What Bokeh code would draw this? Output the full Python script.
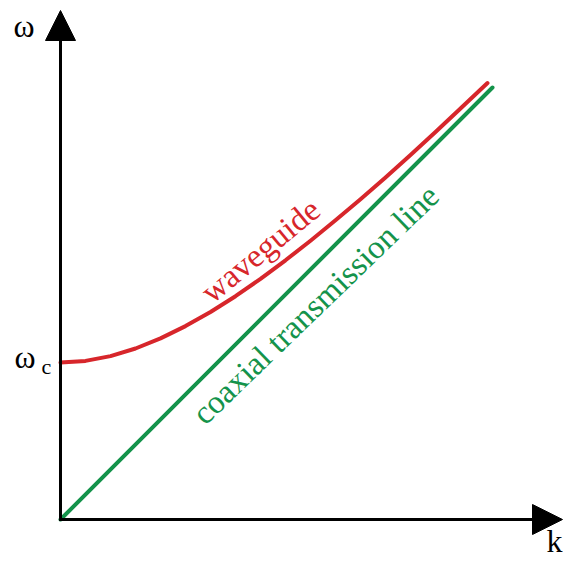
from bokeh.plotting import figure
from bokeh.models import Range1d, Arrow, NormalHead
from bokeh.core.properties import value
from bokeh.embed import file_html
from bokeh.resources import INLINE

# Dispersion curves (k, omega) in arbitrary units
omega_c = 1.57
k_waveguide = [0.00, 0.25, 0.50, 0.75, 1.00, 1.25, 1.50, 1.75, 2.00,
               2.25, 2.50, 2.75, 3.00, 3.25, 3.50, 3.75, 4.00, 4.27]
w_waveguide = [1.570, 1.586, 1.634, 1.710, 1.811, 1.934, 2.075, 2.233, 2.406,
               2.592, 2.788, 2.992, 3.203, 3.421, 3.645, 3.875, 4.110, 4.365]
k_coax = [0.00, 4.32]
w_coax = [0.00, 4.32]

RED = "#d7262b"
GREEN = "#14934b"
SERIF = value("Liberation Serif")

p = figure(width=563, height=563, output_backend="svg", toolbar_location=None,
           x_range=Range1d(-0.60, 5.03), y_range=Range1d(-0.44, 5.19),
           min_border=0)
p.axis.visible = False
p.grid.visible = False
p.outline_line_color = None
p.background_fill_color = "white"

# axes with arrow heads
p.add_layout(Arrow(end=NormalHead(size=30, fill_color="black", line_color="black", line_width=1),
                   x_start=0, y_start=-0.015, x_end=0, y_end=5.09,
                   line_color="black", line_width=3))
p.add_layout(Arrow(end=NormalHead(size=30, fill_color="black", line_color="black", line_width=1),
                   x_start=-0.015, y_start=0, x_end=5.02, y_end=0,
                   line_color="black", line_width=3))

# curves
p.line(k_coax, w_coax, line_color=GREEN, line_width=4, line_cap="round")
p.line(k_waveguide, w_waveguide, line_color=RED, line_width=4,
       line_join="round", line_cap="round")

# axis labels
p.text(x=[-0.47], y=[4.94], text=["ω"], text_font=SERIF, text_font_size="32px",
       text_color="black", text_align="left", text_baseline="alphabetic")
p.text(x=[4.86], y=[-0.21], text=["k"], text_font=SERIF, text_font_size="32px",
       text_color="black", text_align="left", text_baseline="alphabetic")
p.text(x=[-0.46], y=[omega_c + 0.06], text=["ω"], text_font=SERIF, text_font_size="32px",
       text_color="black", text_align="left", text_baseline="alphabetic")
p.text(x=[-0.19], y=[omega_c - 0.04], text=["c"], text_font=SERIF, text_font_size="22px",
       text_color="black", text_align="left", text_baseline="alphabetic")

# curve labels
p.text(x=[2.00], y=[2.69], text=["waveguide"], text_font=SERIF, text_font_size="33px",
       text_color=RED, angle=39.5, angle_units="deg",
       text_align="center", text_baseline="alphabetic")
p.text(x=[2.55], y=[2.15], text=["coaxial transmission line"], text_font=SERIF,
       text_font_size="33px", text_color=GREEN, angle=44, angle_units="deg",
       text_align="center", text_baseline="alphabetic")

open("out.html", "w").write(file_html(p, INLINE))
